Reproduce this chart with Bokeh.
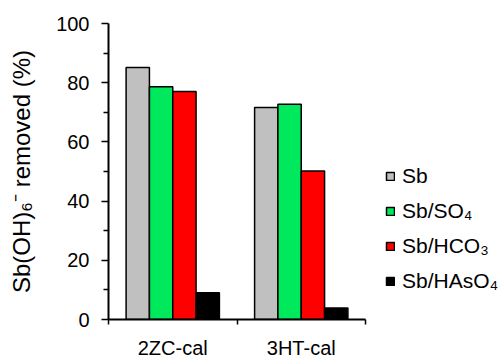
import numpy as np
from bokeh.plotting import figure
from bokeh.layouts import row
from bokeh.models import (Range1d, FixedTicker, Legend, LegendItem)
from bokeh.embed import file_html
from bokeh.resources import INLINE

# ---- data ----
groups = ["2ZC-cal", "3HT-cal"]
series = ["Sb", "Sb/SO\u2084", "Sb/HCO\u2083", "Sb/HAsO\u2084"]
sb = [85.1, 71.6]
sb_so4 = [78.6, 72.7]
sb_hco3 = [77.0, 50.2]
sb_hasO4 = [9.0, 3.9]
colors = ["#C0C0C0", "#00E85C", "#FF0000", "#000000"]
y_ticks = [0, 20, 40, 60, 80, 100]
y_minor = [10, 30, 50, 70, 90]

values = [sb, sb_so4, sb_hco3, sb_hasO4]

FONT = "Liberation Sans"

p = figure(width=368, height=361, output_backend="svg", toolbar_location=None,
           x_range=Range1d(0, len(groups)), y_range=Range1d(0, 100),
           min_border_left=108, min_border_right=3, min_border_top=23,
           min_border_bottom=41)
p.outline_line_color = None
p.xgrid.visible = False
p.ygrid.visible = False
p.background_fill_color = "white"
p.border_fill_color = "white"

bw = 0.1815
centers = np.arange(len(groups)) + 0.5
for i, (vals, col) in enumerate(zip(values, colors)):
    off = (i - 1.5) * bw
    p.vbar(x=centers + off, top=vals, width=bw, fill_color=col,
           line_color="black", line_width=1.5)

# x axis: labels at category centres, ticks at category boundaries
xa = p.xaxis[0]
xa.ticker = FixedTicker(ticks=list(centers), minor_ticks=list(range(len(groups) + 1)))
xa.major_label_overrides = {float(c): g for c, g in zip(centers, groups)}
xa.major_tick_out = 0
xa.major_tick_in = 0
xa.minor_tick_out = 5
xa.minor_tick_in = 0
xa.minor_tick_line_color = "black"
xa.minor_tick_line_width = 1.5
xa.axis_line_color = "black"
xa.axis_line_width = 2
xa.major_label_text_font = FONT
xa.major_label_text_font_size = "20px"
xa.major_label_text_color = "black"
xa.major_label_standoff = 12

ya = p.yaxis[0]
ya.ticker = FixedTicker(ticks=y_ticks, minor_ticks=y_minor)
ya.major_tick_out = 7
ya.major_tick_in = 0
ya.minor_tick_out = 5
ya.minor_tick_in = 0
ya.major_tick_line_width = 1.5
ya.minor_tick_line_width = 1.5
ya.major_tick_line_color = "black"
ya.minor_tick_line_color = "black"
ya.axis_line_color = "black"
ya.axis_line_width = 2
ya.major_label_text_font = FONT
ya.major_label_text_font_size = "20px"
ya.major_label_text_color = "black"
ya.major_label_standoff = 12
ya.axis_label = "Sb(OH)\u2086\u207b removed (%)"
ya.axis_label_text_font = FONT
ya.axis_label_text_font_size = "24px"
ya.axis_label_text_font_style = "normal"
ya.axis_label_text_color = "black"
ya.axis_label_standoff = 18

# legend panel (separate figure so the legend can sit beside the plot frame)
p2 = figure(width=131, height=361, output_backend="svg", toolbar_location=None,
            x_axis_location=None, y_axis_location=None,
            x_range=Range1d(0, 1), y_range=Range1d(0, 1), min_border=0)
p2.outline_line_color = None
p2.grid.visible = False
p2.background_fill_color = "white"
p2.border_fill_color = "white"
swatches = []
for i, (vals, col) in enumerate(zip(values, colors)):
    r = p2.vbar(x=centers + (i - 1.5) * bw, top=vals, width=bw, fill_color=col,
                line_color="black", line_width=1.5)
    r.visible = False
    swatches.append(r)
legend = Legend(items=[LegendItem(label=s, renderers=[r]) for s, r in zip(series, swatches)],
                location=(17, 26), orientation="vertical",
                glyph_width=10, glyph_height=10, label_height=20, spacing=11,
                padding=0, margin=0, label_standoff=7,
                border_line_color=None, background_fill_alpha=0,
                label_text_font=FONT, label_text_font_size="21px",
                label_text_color="black")
p2.add_layout(legend)

layout = row(p, p2)
open("out.html", "w").write(file_html(layout, INLINE))
